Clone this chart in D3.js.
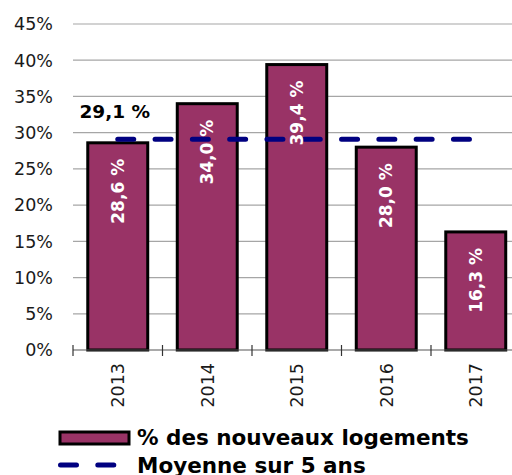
<!DOCTYPE html>
<html>
<head>
<meta charset="utf-8">
<script src="https://cdn.jsdelivr.net/npm/d3@7"></script>
<style>
  body { margin: 0; background: #fff; }
  svg { display: block; font-family: "DejaVu Sans", Verdana, sans-serif; }
</style>
</head>
<body>
<svg id="chart" width="512" height="475"></svg>
<script>
// données
var years = ['2013', '2014', '2015', '2016', '2017']
var shares = [28.6, 34.0, 39.4, 28.0, 16.3]
var average = 29.1
var yTicks = [0, 5, 10, 15, 20, 25, 30, 35, 40, 45]
var legendLabels = ['% des nouveaux logements', 'Moyenne sur 5 ans']

var colorBar = '#993366'
var colorAvg = '#000080'
var colorGrid = '#a6a6a6'

var svg = d3.select('#chart')

var x = d3.scaleBand()
  .domain(years)
  .range([73, 520.5])
  .paddingInner(0.33)
  .paddingOuter(0.165)

var y = d3.scaleLinear()
  .domain([0, 45])
  .range([350, 24])

var fmt = function(v) { return v.toFixed(1).replace('.', ',') + ' %' }

// grille
svg.append('g')
  .selectAll('line')
  .data(yTicks.slice(1))
  .join('line')
  .attr('x1', 73).attr('x2', 512)
  .attr('y1', d => y(d)).attr('y2', d => y(d))
  .attr('stroke', colorGrid)
  .attr('stroke-width', 1.2)

// axe Y
svg.append('g')
  .selectAll('text')
  .data(yTicks)
  .join('text')
  .attr('x', 53)
  .attr('y', d => y(d))
  .attr('dy', '0.36em')
  .attr('text-anchor', 'end')
  .attr('font-size', 17.5)
  .attr('fill', '#1a1a1a')
  .text(d => d + '%')

// barres
svg.append('g')
  .selectAll('rect')
  .data(years)
  .join('rect')
  .attr('x', d => x(d))
  .attr('width', x.bandwidth())
  .attr('y', (d, i) => y(shares[i]))
  .attr('height', (d, i) => y(0) - y(shares[i]))
  .attr('fill', colorBar)
  .attr('stroke', '#000')
  .attr('stroke-width', 3)

// axe X
svg.append('line')
  .attr('x1', 73).attr('x2', 512)
  .attr('y1', y(0)).attr('y2', y(0))
  .attr('stroke', '#555')
  .attr('stroke-width', 1.2)

var boundaries = years.map(d => x(d) - x.step() * x.paddingInner() / 2)
boundaries[0] = 73
svg.append('g')
  .selectAll('line')
  .data(boundaries)
  .join('line')
  .attr('x1', d => d).attr('x2', d => d)
  .attr('y1', y(0) - 5).attr('y2', y(0) + 6)
  .attr('stroke', '#333')
  .attr('stroke-width', 1.2)

svg.append('g')
  .selectAll('text')
  .data(years)
  .join('text')
  .attr('transform', d => 'translate(' + (x(d) + x.bandwidth() / 2) + ',363) rotate(-90)')
  .attr('dy', '0.36em')
  .attr('text-anchor', 'end')
  .attr('font-size', 17.5)
  .attr('fill', '#1a1a1a')
  .text(d => d)

// moyenne
var cx0 = x(years[0]) + x.bandwidth() / 2
var cx1 = x(years[years.length - 1]) + x.bandwidth() / 2
svg.append('line')
  .attr('x1', cx0).attr('x2', cx1)
  .attr('y1', y(average)).attr('y2', y(average))
  .attr('stroke', colorAvg)
  .attr('stroke-width', 5)
  .attr('stroke-linecap', 'round')
  .attr('stroke-dasharray', '16,21.3')

svg.append('text')
  .attr('x', cx0 - 3)
  .attr('y', 118)
  .attr('text-anchor', 'middle')
  .attr('font-size', 18.5)
  .attr('font-weight', 'bold')
  .attr('fill', '#000')
  .text(fmt(average))

// étiquettes des barres
svg.append('g')
  .selectAll('text')
  .data(years)
  .join('text')
  .attr('transform', (d, i) => 'translate(' + (x(d) + x.bandwidth() / 2) + ',' + (y(shares[i]) + 16) + ') rotate(-90)')
  .attr('dy', '0.36em')
  .attr('text-anchor', 'end')
  .attr('font-size', 17)
  .attr('font-weight', 'bold')
  .attr('fill', '#fff')
  .text((d, i) => fmt(shares[i]))

// légende
var legend = svg.append('g')
legend.append('rect')
  .attr('x', 60).attr('y', 432)
  .attr('width', 69).attr('height', 12)
  .attr('fill', colorBar)
  .attr('stroke', '#000')
  .attr('stroke-width', 3)
legend.append('line')
  .attr('x1', 60.5).attr('x2', 118)
  .attr('y1', 465).attr('y2', 465)
  .attr('stroke', colorAvg)
  .attr('stroke-width', 5)
  .attr('stroke-linecap', 'round')
  .attr('stroke-dasharray', '16,21.3')
legend.selectAll('text')
  .data(legendLabels)
  .join('text')
  .attr('x', 137)
  .attr('y', (d, i) => 444.5 + i * 28)
  .attr('font-size', 21.5)
  .attr('font-weight', 'bold')
  .attr('fill', '#000')
  .text(d => d)
</script>
</body>
</html>
